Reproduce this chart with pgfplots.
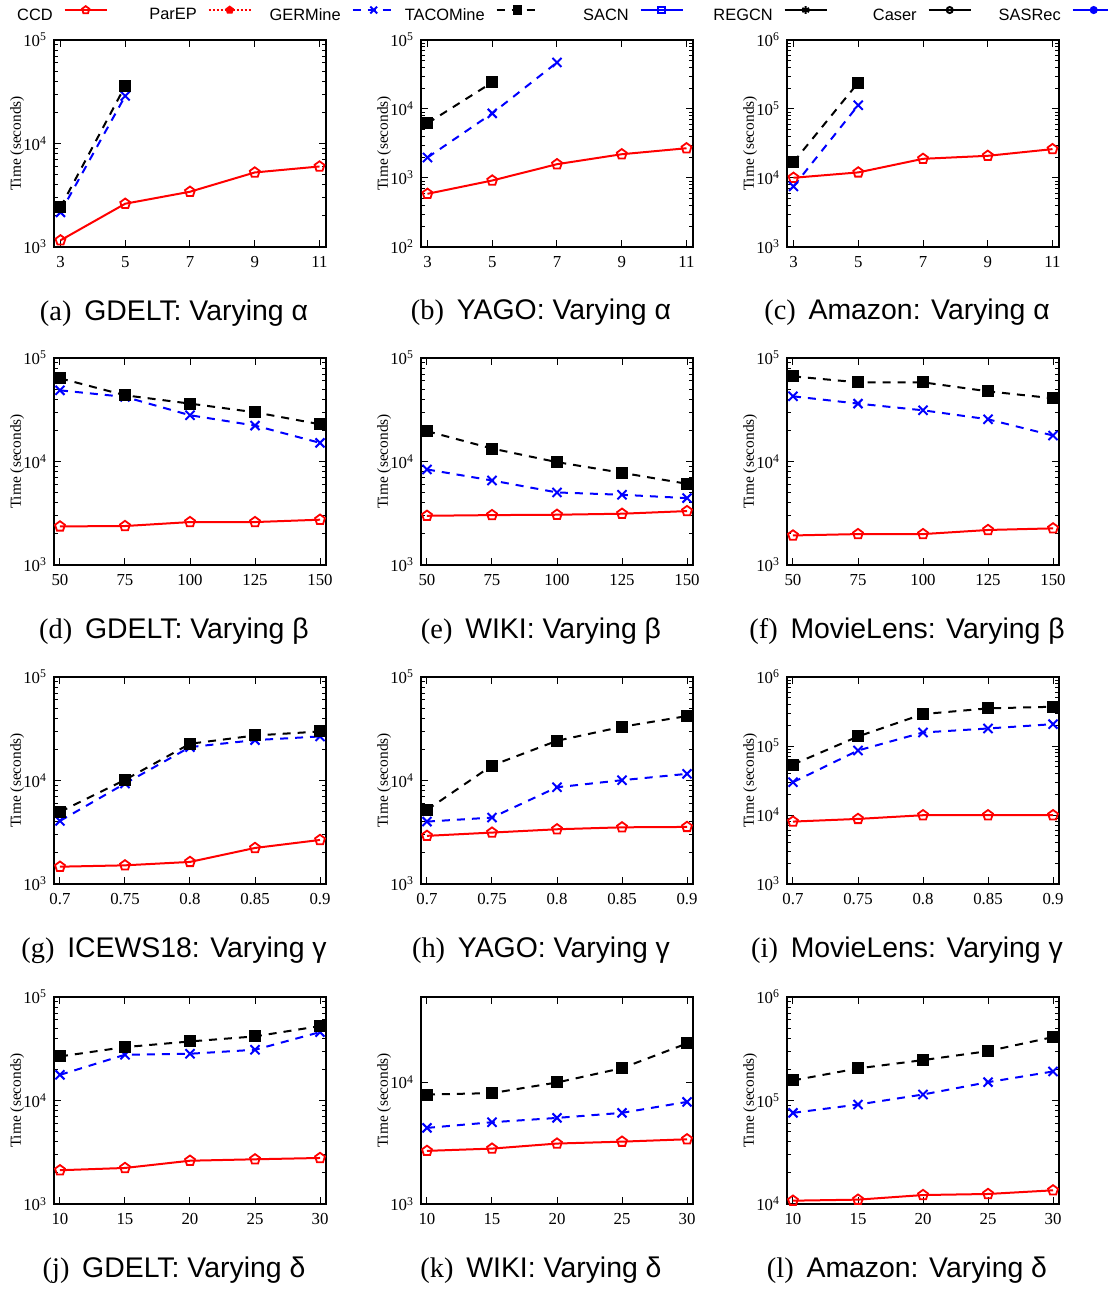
\documentclass[border=0pt]{standalone}
\usepackage{fontspec}
\setmainfont{Liberation Serif}
\newfontfamily\sansf{Liberation Sans}
\usepackage{pgfplots}
\pgfplotsset{compat=1.18}
\usetikzlibrary{plotmarks}

\pgfplotsset{
 legend image code/.code={\draw[mark repeat=2,mark phase=2,#1] plot coordinates {(0pt,2.9pt)(10.5pt,2.9pt)(21pt,2.9pt)};},
 every axis/.append style={scale only axis,width=136pt,height=103.5pt,ymode=log,anchor=north west,
  axis line style={line width=0.6pt},tick style={black,line width=0.5pt},
  major tick length=3.5pt,minor tick length=2pt,
  tick label style={font=\fontsize{8.4}{9}\selectfont},
  xticklabel style={yshift=-1pt},
  yticklabel={10\textsuperscript{\pgfmathparse{int(round(\tick/2.302585093))}\pgfmathresult}},
  ylabel={Time (seconds)},
  ylabel style={font=\fontsize{7.7}{8}\selectfont,at={(axis description cs:-0.135,0.5)},anchor=center},
  xlabel style={at={(axis description cs:0.5,0)},anchor=base,yshift=-36.5pt,xshift=-8pt,
   font=\fontsize{14.2}{16}\selectfont},
  clip=false},
 xalp/.style={xmin=2.8,xmax=11.2,xtick={3,5,7,9,11},xticklabels={3,5,7,9,11}},
 xbet/.style={xmin=47.7,xmax=152.3,xtick={50,75,100,125,150},xticklabels={50,75,100,125,150}},
 xgam/.style={xmin=0.6954,xmax=0.9046,xtick={0.7,0.75,0.8,0.85,0.9},xticklabels={0.7,0.75,0.8,0.85,0.9}},
 xdel/.style={xmin=9.54,xmax=30.46,xtick={10,15,20,25,30},xticklabels={10,15,20,25,30}},
 sccd/.style={red,line width=1pt,mark=pentagon,mark size=2.6pt,mark options={solid,line width=0.9pt}},
 sparep/.style={red,line width=1pt,densely dotted,mark=pentagon*,mark size=2.2pt,mark options={solid}},
 sger/.style={blue,line width=1pt,dash pattern=on 4pt off 3.5pt,mark=x,mark size=3.2pt,mark options={solid}},
 staco/.style={black,line width=1pt,dash pattern=on 4pt off 3.5pt,mark=square*,mark size=2.5pt,mark options={solid}},
 ssacn/.style={blue,line width=1pt,mark=square,mark size=2.2pt,mark options={solid}},
 sregcn/.style={black,line width=1pt,mark=asterisk,mark size=2.6pt,mark options={solid}},
 scaser/.style={black,line width=1pt,mark=o,mark size=2pt,mark options={solid}},
 ssasrec/.style={blue,line width=1pt,mark=*,mark size=2pt,mark options={solid}},
}
\newcommand{\subcap}[3]{{\rmfamily (#1)}\hspace{0.45em}{\sansf #2: Varying #3}}
\newcommand{\lgd}[1]{\makebox[41pt][r]{#1}}

\begin{document}
\begin{tikzpicture}
\path[use as bounding box] (0,0) rectangle (554pt,-645pt);

% ---- row 1 ----
\begin{axis}[xalp,at={(27pt,-20pt)},ymin=1e3,ymax=1e5,xlabel={\subcap{a}{GDELT}{α}},
 legend columns=8,legend plot pos=right,legend cell align=right,
 legend image post style={/tikz/every mark/.append style={scale=0.75}},
 legend style={at={(axis description cs:-0.3077,1.1222)},anchor=west,draw=none,fill=none,inner sep=0pt,
  column sep=0pt,font=\sansf\fontsize{8.2}{9}\selectfont,nodes={inner sep=0pt},
  /tikz/every odd column/.append style={column sep=5.5pt},
  /tikz/every even column/.append style={column sep=3.5pt}}]
\addplot[sccd] coordinates {(3,1160) (5,2620) (7,3420) (9,5250) (11,6000)};
\addlegendentry{\lgd{CCD}}
\addlegendimage{sparep}
\addlegendentry{\lgd{ParEP}}
\addplot[sger] coordinates {(3,2160) (5,28800)};
\addlegendentry{\lgd{GERMine}}
\addplot[staco] coordinates {(3,2420) (5,36000)};
\addlegendentry{\lgd{TACOMine}}
\addlegendimage{ssacn}
\addlegendentry{\lgd{SACN}}
\addlegendimage{sregcn}
\addlegendentry{\lgd{REGCN}}
\addlegendimage{scaser}
\addlegendentry{\lgd{Caser}}
\addlegendimage{ssasrec}
\addlegendentry{\lgd{SASRec}}
\end{axis}

\begin{axis}[xalp,at={(210.5pt,-20pt)},ymin=1e2,ymax=1e5,xlabel={\subcap{b}{YAGO}{α}}]
\addplot[sccd] coordinates {(3,590) (5,920) (7,1585) (9,2210) (11,2700)};
\addplot[sger] coordinates {(3,1980) (5,8650) (7,47300)};
\addplot[staco] coordinates {(3,6210) (5,24300)};
\end{axis}

\begin{axis}[xalp,at={(393.5pt,-20pt)},ymin=1e3,ymax=1e6,xlabel={\subcap{c}{Amazon}{α}}]
\addplot[sccd] coordinates {(3,10070) (5,12050) (7,18970) (9,20970) (11,26200)};
\addplot[sger] coordinates {(3,7550) (5,113500)};
\addplot[staco] coordinates {(3,17000) (5,241500)};
\end{axis}

% ---- row 2 ----
\begin{axis}[xbet,at={(27pt,-179pt)},ymin=1e3,ymax=1e5,xlabel={\subcap{d}{GDELT}{β}}]
\addplot[sccd] coordinates {(50,2360) (75,2380) (100,2600) (125,2600) (150,2740)};
\addplot[sger] coordinates {(50,48700) (75,42100) (100,28000) (125,22240) (150,15140)};
\addplot[staco] coordinates {(50,63700) (75,43650) (100,36250) (125,29900) (150,22900)};
\end{axis}

\begin{axis}[xbet,at={(210.5pt,-179pt)},ymin=1e3,ymax=1e5,xlabel={\subcap{e}{WIKI}{β}}]
\addplot[sccd] coordinates {(50,2990) (75,3035) (100,3060) (125,3130) (150,3320)};
\addplot[sger] coordinates {(50,8380) (75,6560) (100,5025) (125,4770) (150,4430)};
\addplot[staco] coordinates {(50,19640) (75,13350) (100,9860) (125,7780) (150,6090)};
\end{axis}

\begin{axis}[xbet,at={(393.5pt,-179pt)},ymin=1e3,ymax=1e5,xlabel={\subcap{f}{MovieLens}{β}}]
\addplot[sccd] coordinates {(50,1930) (75,1990) (100,1990) (125,2180) (150,2260)};
\addplot[sger] coordinates {(50,42650) (75,36250) (100,31240) (125,25580) (150,17820)};
\addplot[staco] coordinates {(50,66500) (75,58200) (100,58200) (125,47640) (150,40830)};
\end{axis}

% ---- row 3 ----
\begin{axis}[xgam,at={(27pt,-338.5pt)},ymin=1e3,ymax=1e5,xlabel={\subcap{g}{ICEWS18}{γ}}]
\addplot[sccd] coordinates {(0.7,1470) (0.75,1515) (0.8,1635) (0.85,2230) (0.9,2665)};
\addplot[sger] coordinates {(0.7,4070) (0.75,9350) (0.8,21030) (0.85,24560) (0.9,26650)};
\addplot[staco] coordinates {(0.7,4980) (0.75,10140) (0.8,22650) (0.85,27230) (0.9,29760)};
\end{axis}

\begin{axis}[xgam,at={(210.5pt,-338.5pt)},ymin=1e3,ymax=1e5,xlabel={\subcap{h}{YAGO}{γ}}]
\addplot[sccd] coordinates {(0.7,2920) (0.75,3140) (0.8,3380) (0.85,3530) (0.9,3560)};
\addplot[sger] coordinates {(0.7,4010) (0.75,4385) (0.8,8610) (0.85,10070) (0.9,11600)};
\addplot[staco] coordinates {(0.7,5200) (0.75,13960) (0.8,24200) (0.85,33040) (0.9,41960)};
\end{axis}

\begin{axis}[xgam,at={(393.5pt,-338.5pt)},ymin=1e3,ymax=1e6,xlabel={\subcap{i}{MovieLens}{γ}}]
\addplot[sccd] coordinates {(0.7,8030) (0.75,8780) (0.8,9930) (0.85,9930) (0.9,9930)};
\addplot[sger] coordinates {(0.7,29900) (0.75,86100) (0.8,157100) (0.85,179500) (0.9,207300)};
\addplot[staco] coordinates {(0.7,53950) (0.75,137400) (0.8,290300) (0.85,350900) (0.9,370800)};
\end{axis}

% ---- row 4 ----
\begin{axis}[xdel,at={(27pt,-498.5pt)},ymin=1e3,ymax=1e5,xlabel={\subcap{j}{GDELT}{δ}}]
\addplot[sccd] coordinates {(10,2120) (15,2230) (20,2620) (25,2705) (30,2785)};
\addplot[sger] coordinates {(10,17700) (15,27680) (20,28300) (25,30930) (30,45800)};
\addplot[staco] coordinates {(10,26660) (15,32810) (20,37220) (25,41640) (30,52370)};
\end{axis}

\begin{axis}[xdel,at={(210.5pt,-498.5pt)},ymin=1e3,ymax=5e4,xlabel={\subcap{k}{WIKI}{δ}}]
\addplot[sccd] coordinates {(10,2730) (15,2850) (20,3135) (25,3250) (30,3400)};
\addplot[sger] coordinates {(10,4215) (15,4690) (20,5090) (25,5600) (30,6890)};
\addplot[staco] coordinates {(10,7920) (15,8130) (20,9940) (25,13030) (30,20800)};
\end{axis}

\begin{axis}[xdel,at={(393.5pt,-498.5pt)},ymin=1e4,ymax=1e6,xlabel={\subcap{l}{Amazon}{δ}}]
\addplot[sccd] coordinates {(10,10770) (15,11020) (20,12210) (25,12500) (30,13560)};
\addplot[sger] coordinates {(10,76000) (15,91400) (20,114300) (25,150400) (30,190800)};
\addplot[staco] coordinates {(10,156300) (15,204200) (20,245700) (25,300100) (30,410000)};
\end{axis}
\end{tikzpicture}
\end{document}
